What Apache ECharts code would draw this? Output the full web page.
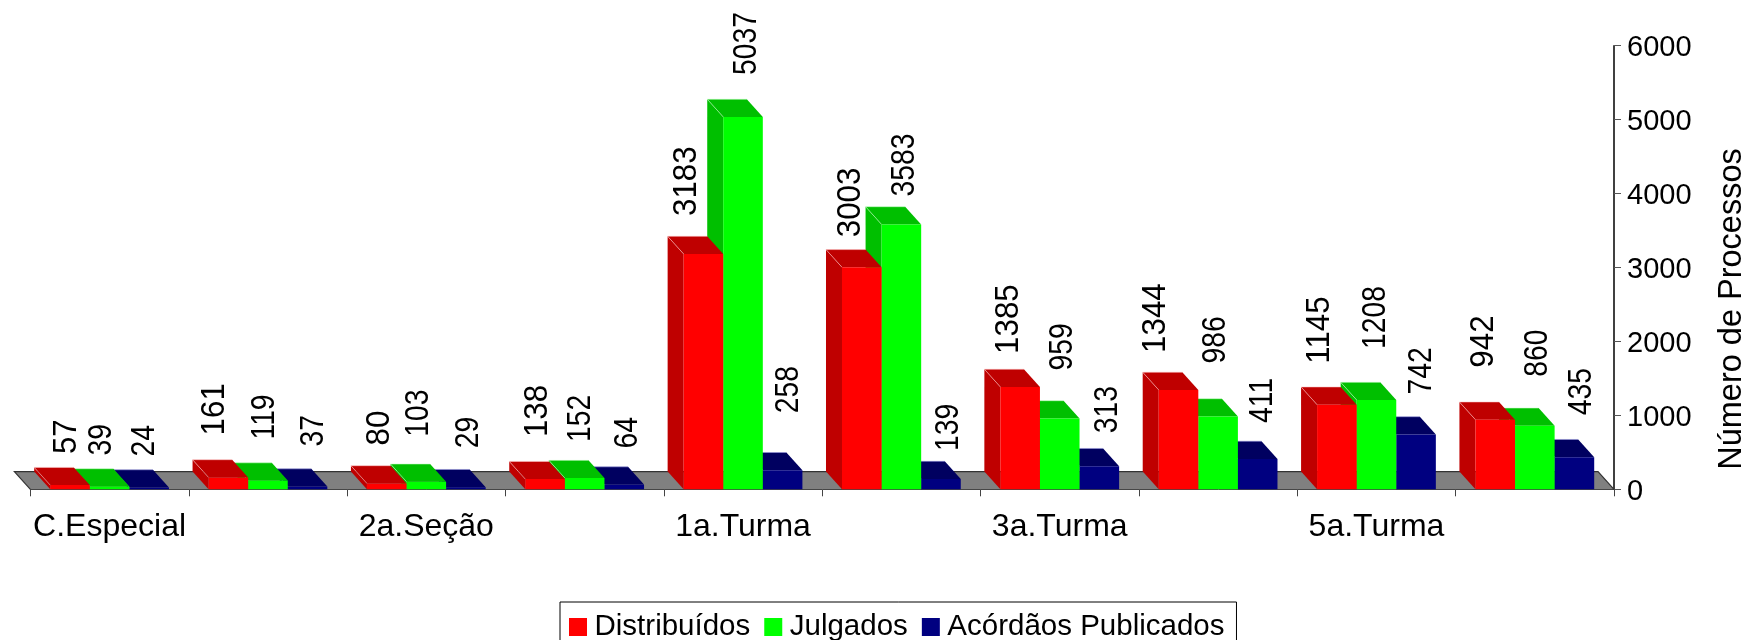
<!DOCTYPE html>
<html>
<head>
<meta charset="utf-8">
<style>html,body{margin:0;padding:0;background:#fff}#c{width:1744px;height:640px}</style>
<script src="https://cdn.jsdelivr.net/npm/echarts@6/dist/echarts.min.js"></script>
</head>
<body>
<div id="c"></div>
<script>
const categories = ['C.Especial','1a.Seção','2a.Seção','3a.Seção','1a.Turma','2a.Turma','3a.Turma','4a.Turma','5a.Turma','6a.Turma'];
const seriesNames = ['Distribuídos','Julgados','Acórdãos Publicados'];
const distribuidos = [57,161,80,138,3183,3003,1385,1344,1145,942];
const julgados = [39,119,103,152,5037,3583,959,986,1208,860];
const acordaos = [24,37,29,64,258,139,313,411,742,435];
const yTicks = {min:0, max:6000, interval:1000};

// Hand placement of the value labels around each bar, as in the reference
const nudgeX = [
  [-5,-15,-9,-9,-18,-13,-13,-24,-19,-13],
  [-9,-4,-9,-5,2,2,2,-4,-2,2],
  [-6,5,2,2,5,6,7,4,4,6]
];
const nudgeUp = [
  [31,42,38,42,38,30,33,37,41,52],
  [31,41,45,36,42,28,48,53,51,49],
  [31,40,39,36,57,28,33,36,40,42]
];
const labelFont = [31,28,28], labelStretch = [1.1,1.17,1.17];
const DEPTH_X = 16, DEPTH_Y = 17.7;
const FONT = '"Liberation Sans", Arial, sans-serif';

const palette = [
  {front:'#ff0000', dark:'#bf0000', edge:'rgba(255,200,200,.55)'},
  {front:'#00ff00', dark:'#00bf00', edge:'rgba(200,255,200,.55)'},
  {front:'#000080', dark:'#000060', edge:'rgba(150,150,220,.55)'}
];

function barSeries(name, values, s){
  return {
    type:'custom', name, z:10-s,
    coordinateSystem:'cartesian2d',
    encode:{x:0,y:1},
    itemStyle:{color:palette[s].front},
    data:values.map((v,i)=>[i,v]),
    clip:false,
    renderItem(params, api){
      const i = api.value(0), v = api.value(1);
      const top = api.coord([i,v]), base = api.coord([i,0]);
      const w = api.size([1,0])[0]/4;
      const x0 = top[0]+(s-1)*w-w/2, x1 = x0+w;
      const yT = top[1], yB = base[1];
      const c = palette[s];
      const poly = (points,fill)=>({type:'polygon',shape:{points},style:{fill},silent:true});
      return {type:'group',children:[
        poly([[x0,yT],[x0-DEPTH_X,yT-DEPTH_Y],[x0-DEPTH_X,yB-DEPTH_Y],[x0,yB]],c.dark),
        poly([[x0,yT],[x0-DEPTH_X,yT-DEPTH_Y],[x1-DEPTH_X,yT-DEPTH_Y],[x1,yT]],c.dark),
        {type:'polyline',shape:{points:[[x0,yT],[x0-DEPTH_X,yT-DEPTH_Y],[x1-DEPTH_X,yT-DEPTH_Y]]},style:{fill:null,stroke:c.edge,lineWidth:1},silent:true},
        poly([[x0,yT],[x1,yT],[x1,yB],[x0,yB]],c.front),
        {type:'text',x:top[0]+(s-1)*w+nudgeX[s][i]+1.5,y:yT-nudgeUp[s][i],rotation:Math.PI/2,scaleX:1.01,scaleY:labelStretch[s],
         style:{text:String(v),font:labelFont[s]+'px '+FONT,fill:'#000',align:'left',verticalAlign:'middle'},silent:true}
      ]};
    }
  };
}

const floorSeries = {
  type:'custom', z:1, silent:true, clip:false,
  coordinateSystem:'cartesian2d',
  encode:{x:0,y:1}, data:[[0,0]],
  renderItem(params){
    const g = params.coordSys, yB = g.y+g.height, xL = g.x, xR = g.x+g.width;
    const b = yB-DEPTH_Y;
    return {type:'group',children:[
      {type:'polygon',shape:{points:[[xL,yB],[xL-DEPTH_X,b],[xR-DEPTH_X,b],[xR,yB]]},style:{fill:'#808080'}},
      {type:'polyline',shape:{points:[[xL,yB],[xL-DEPTH_X,b],[xR-DEPTH_X,b],[xR,yB]]},style:{fill:null,stroke:'#333',lineWidth:1.2}}
    ]};
  }
};

const chart = echarts.init(document.getElementById('c'),null,{renderer:'canvas'});
chart.setOption({
  animation:false,
  backgroundColor:'#fff',
  textStyle:{fontFamily:FONT},
  grid:{left:30.4,right:130,top:45.7,bottom:150.7,containLabel:false,outerBoundsMode:'none'},
  legend:{
    left:560, top:602, orient:'horizontal',
    data:seriesNames,
    icon:'rect', itemWidth:18, itemHeight:18, itemGap:14,
    backgroundColor:'#fff', borderColor:'#000', borderWidth:1,
    padding:[10,12,40,9],
    textStyle:{fontFamily:FONT,fontSize:29.5,color:'#000',padding:[0,0,0,2.5]},
    selectedMode:false
  },
  xAxis:{
    type:'category', data:categories, boundaryGap:true,
    axisLine:{show:true,lineStyle:{color:'#333',width:1}},
    axisTick:{show:true,length:7,alignWithLabel:false,interval:0,lineStyle:{color:'#444',width:1}},
    axisLabel:{interval:1,fontSize:32,color:'#000',margin:22,fontFamily:FONT},
    splitLine:{show:false}
  },
  yAxis:{
    type:'value', position:'right', min:yTicks.min, max:yTicks.max, interval:yTicks.interval,
    name:'Número de Processos', nameLocation:'middle', nameRotate:90, nameGap:102,
    nameTextStyle:{fontSize:32.5,color:'#000',fontFamily:FONT,padding:[0,83,0,0]},
    axisLine:{show:true,onZero:false,lineStyle:{color:'#000',width:1.5}},
    axisTick:{show:true,length:7,lineStyle:{color:'#555',width:1}},
    axisLabel:{fontSize:29,color:'#000',margin:13,fontFamily:FONT,verticalAlign:'top',lineHeight:5,formatter:v=>String(v)},
    splitLine:{show:false}
  },
  series:[
    floorSeries,
    barSeries(seriesNames[0],distribuidos,0),
    barSeries(seriesNames[1],julgados,1),
    barSeries(seriesNames[2],acordaos,2)
  ]
});
</script>
</body>
</html>
